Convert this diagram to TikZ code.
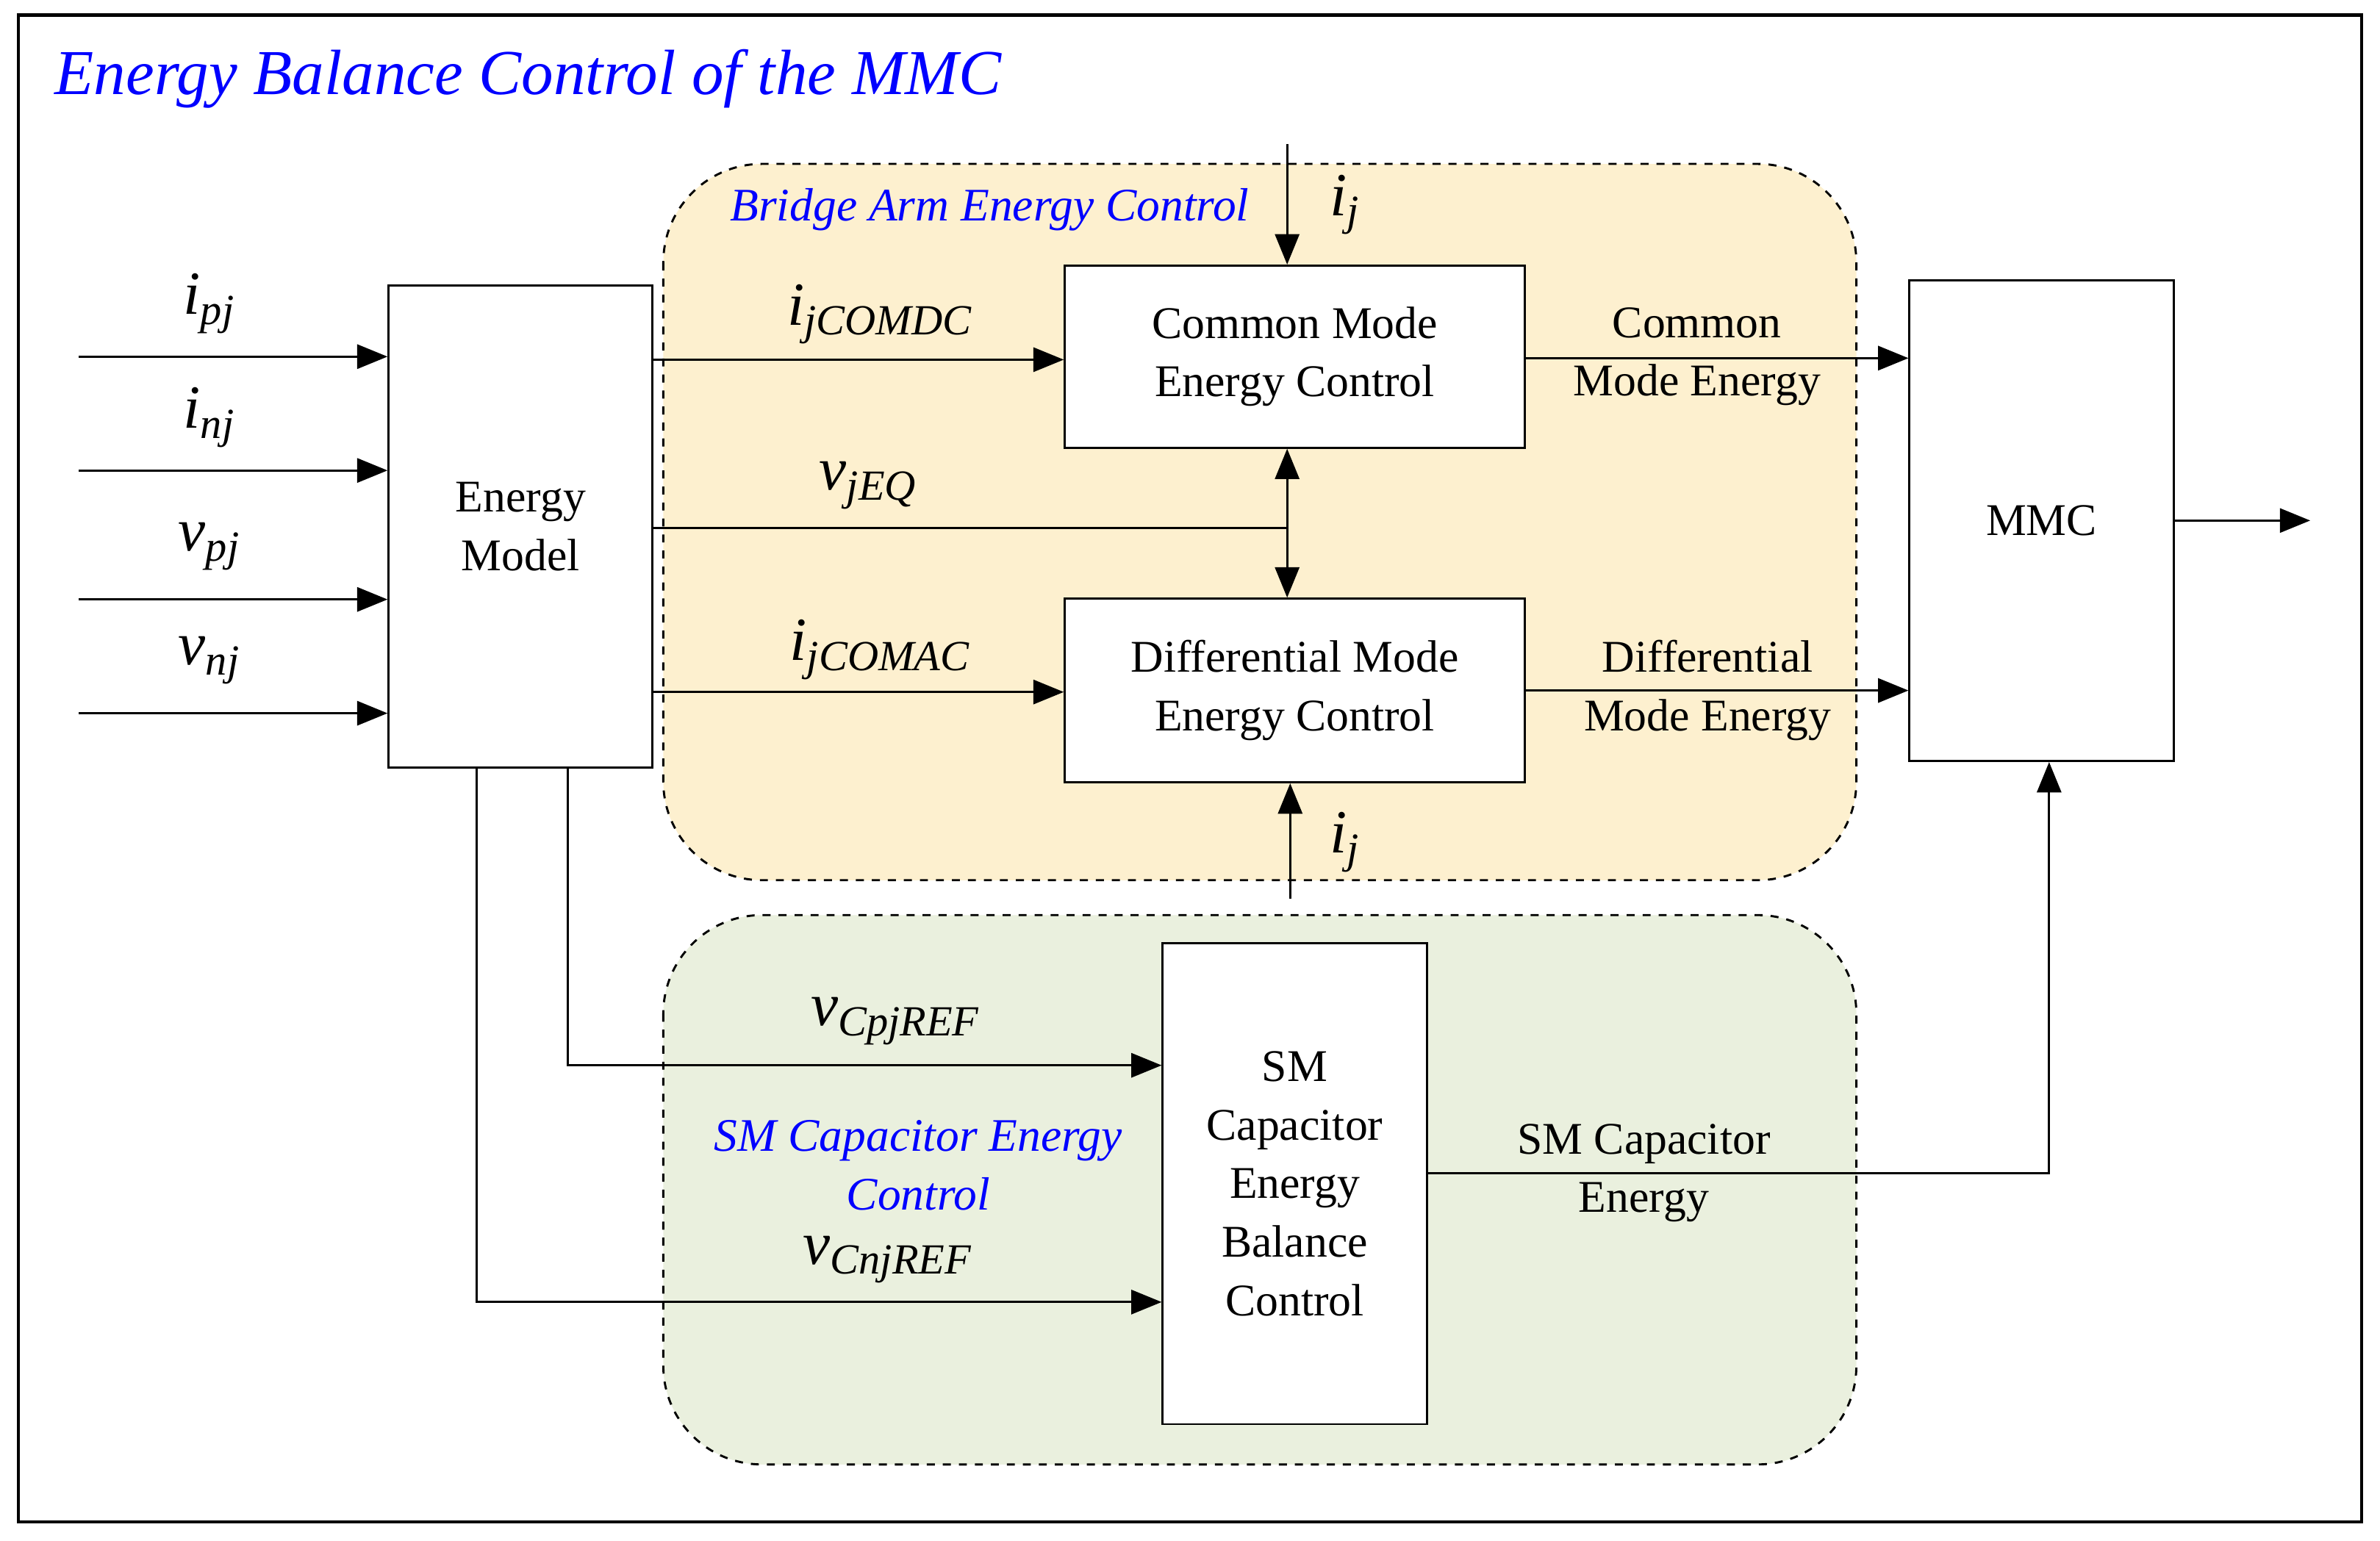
\documentclass[tikz,border=0pt]{standalone}
\usepackage{fontspec}
\setmainfont{Liberation Serif}
\usepackage{tikz}
\usetikzlibrary{arrows.meta}
\definecolor{armfill}{HTML}{FDF0CF}
\definecolor{smfill}{HTML}{EAF0DE}
\newcommand{\qty}[2]{\textit{#1}\textsubscript{\textit{#2}}}
\tikzset{
  block/.style={draw,thick,fill=white,align=center,font=\fontsize{17}{22}\selectfont},
  region/.style={draw,thick,dashed,rounded corners=1.3cm},
  sig/.style={thick,-{Triangle[length=0.4cm,width=0.32cm]}},
  lbl/.style={font=\fontsize{23}{26}\selectfont},
  txt/.style={align=center,font=\fontsize{17}{22}\selectfont},
  ttl/.style={text=blue,font=\itshape\fontsize{17.5}{22}\selectfont,align=center},
}
\begin{document}
\begin{tikzpicture}[x=0.02cm,y=-0.02cm]
\useasboundingbox (0,0) rectangle (1568,1015);
\draw[very thick] (12,10) rectangle (1556,1003);
\node[anchor=west,text=blue,font=\itshape\fontsize{24}{28}\selectfont] (title) at (30,52) {Energy Balance Control of the MMC};

% regions
\draw[region,fill=armfill] (437,108) rectangle (1223,580);
\draw[region,fill=smfill] (437,603) rectangle (1223,965);
\node[ttl] (armtitle) at (652,138) {Bridge Arm Energy Control};
\node[ttl] (smtitle) at (605,768) {SM Capacitor Energy\\Control};

% blocks
\node[block,minimum width=3.48cm,minimum height=6.36cm] (em) at (343,347) {Energy\\Model};
\node[block,minimum width=6.06cm,minimum height=2.4cm] (cm) at (853,235) {Common Mode\\Energy Control};
\node[block,minimum width=6.06cm,minimum height=2.42cm] (dm) at (853,455) {Differential Mode\\Energy Control};
\node[block,minimum width=3.48cm,minimum height=6.34cm] (mmc) at (1345,343) {MMC};
\node[block,minimum width=3.48cm,minimum height=6.34cm] (sm) at (853,780) {SM\\Capacitor\\Energy\\Balance\\Control};

% inputs
\foreach \y/\n/\a/\b in {235/ipj/i/pj,310/inj/i/nj,395/vpj/v/pj,470/vnj/v/nj}{
  \coordinate (\n) at (52,\y);
  \draw[sig] (\n) -- (\n -| em.west);
  \node[lbl] (l\n) at (138,\y-35) {\qty{\a}{\b}};
}

% energy model to controllers
\draw[sig] (em.east |- 0,237) -- (cm.west |- 0,237);
\node[lbl] (lcomdc) at (580,207) {\qty{i}{jCOMDC}};
\draw[sig] (em.east |- 0,456) -- (dm.west |- 0,456);
\node[lbl] (lcomac) at (580,428) {\qty{i}{jCOMAC}};
\coordinate (eq) at (848,348);
\draw[thick] (em.east |- eq) -- (eq);
\draw[sig] (eq) -- (cm.south -| eq);
\draw[sig] (eq) -- (dm.north -| eq);
\node[lbl] (leq) at (572,320) {\qty{v}{jEQ}};

% i_j inputs
\coordinate (ijtop) at (848,95);
\draw[sig] (ijtop) -- (cm.north -| ijtop);
\node[lbl] (lijtop) at (886,135) {\qty{i}{j}};
\coordinate (ijbot) at (850,592);
\draw[sig] (ijbot) -- (dm.south -| ijbot);
\node[lbl] (lijbot) at (886,555) {\qty{i}{j}};

% outputs to MMC
\draw[sig] (cm.east |- 0,236) -- (mmc.west |- 0,236);
\node[txt] (lcme) at (1118,235) {Common\\Mode Energy};
\draw[sig] (dm.east |- 0,455) -- (mmc.west |- 0,455);
\node[txt] (ldme) at (1125,455) {Differential\\Mode Energy};
\coordinate (out) at (1522,343);
\draw[sig] (mmc.east |- out) -- (out);

% references to SM block
\draw[sig] (em.south -| 374,0) |- (sm.west |- 0,702);
\node[lbl] (lcp) at (590,673) {\qty{v}{CpjREF}};
\draw[sig] (em.south -| 314,0) |- (sm.west |- 0,858);
\node[lbl] (lcn) at (585,830) {\qty{v}{CnjREF}};
\draw[sig] (sm.east |- 0,773) -| (mmc.south -| 1350,0);
\node[txt] (lsme) at (1083,773) {SM Capacitor\\Energy};
\end{tikzpicture}
\end{document}
